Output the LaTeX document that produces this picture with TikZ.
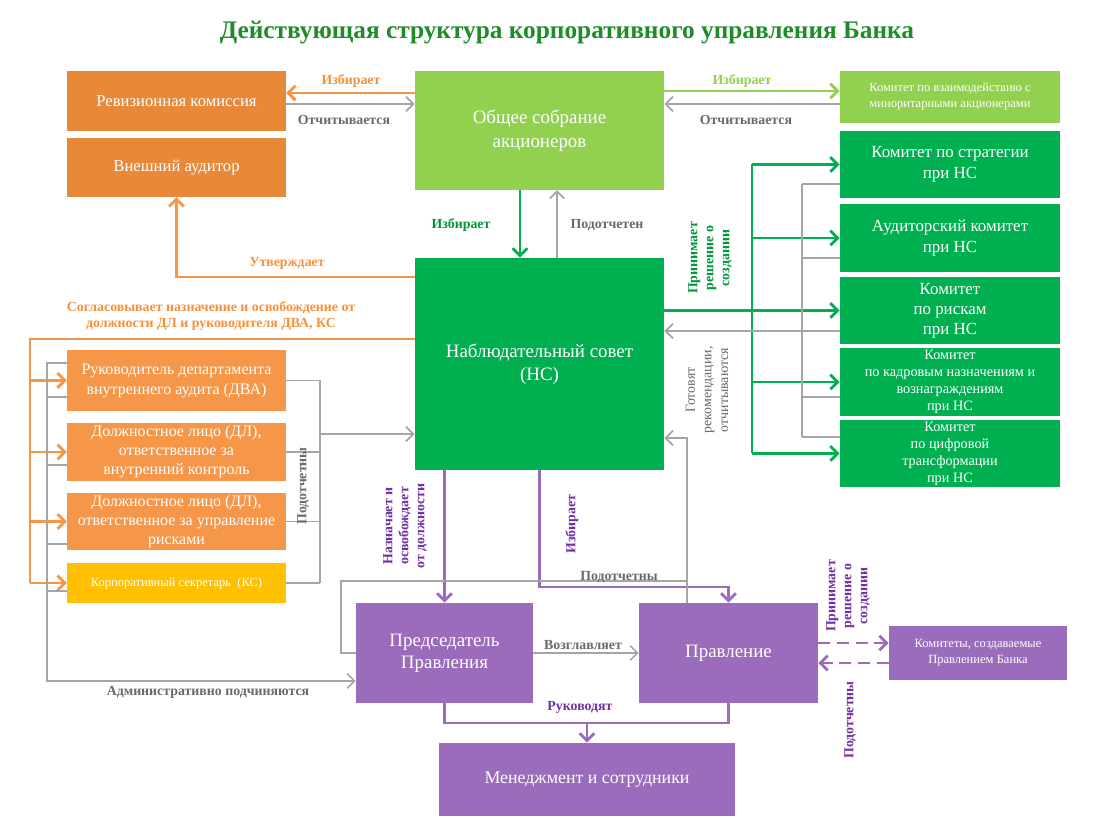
\documentclass[tikz,border=0pt]{standalone}
\usepackage{fontspec}
\setmainfont{Liberation Serif}
\usepackage{tikz}
\usetikzlibrary{arrows.meta}
\definecolor{titlegreen}{RGB}{30,140,40}
\definecolor{orbox}{RGB}{232,137,58}
\definecolor{orlight}{RGB}{245,150,72}
\definecolor{orlab}{RGB}{245,145,60}
\definecolor{ksyellow}{RGB}{255,192,0}
\definecolor{lgreen}{RGB}{146,208,80}
\definecolor{dgreen}{RGB}{0,176,80}
\definecolor{labgreen}{RGB}{0,150,60}
\definecolor{lineg}{RGB}{165,165,165}
\definecolor{labg}{RGB}{105,105,105}
\definecolor{purp}{RGB}{155,108,188}
\definecolor{purplab}{RGB}{112,48,160}

\begin{document}
\begin{tikzpicture}[
    x=0.75pt, y=-0.75pt,
    box/.style={rectangle, inner sep=1pt, text=white, align=center,
                font=\fontsize{12.5}{15}\selectfont},
    big/.style={font=\fontsize{14.2}{17}\selectfont},
    small/.style={font=\fontsize{9.4}{12}\selectfont},
    lab/.style={font=\fontsize{10.4}{12}\selectfont\bfseries, inner sep=1pt},
    tip/.style={-{Straight Barb[length=5.5pt,width=11pt]}},
    orline/.style={draw=orlight, line width=2.2pt},
    orarrow/.style={orline, tip},
    gyline/.style={draw=lineg, line width=1.3pt},
    gyarrow/.style={gyline, tip},
    gnline/.style={draw=dgreen, line width=2.2pt},
    gnarrow/.style={gnline, tip},
    lgarrow/.style={draw=lgreen, line width=2.2pt, tip},
    puline/.style={draw=purp, line width=2.2pt},
    puarrow/.style={puline, tip},
    pudash/.style={puarrow, dash pattern=on 9pt off 5pt}
]
\useasboundingbox (0,0) rectangle (1100,837);
\node[font=\fontsize{19}{22}\selectfont\bfseries, text=titlegreen] (title) at (567,33)
    {Действующая структура корпоративного управления Банка};

\node[box, fill=orbox, minimum width=164pt, minimum height=45pt] (rev) at (176.5,101) {Ревизионная комиссия};
\node[box, fill=orbox, minimum width=164pt, minimum height=44pt] (aud) at (176.5,167.5) {Внешний аудитор};
\node[box, big, fill=lgreen, minimum width=187pt, minimum height=89pt,
      font=\fontsize{14.2}{18}\selectfont] (osa) at (539.5,130.5) {Общее собрание\\акционеров};
\node[box, small, fill=lgreen, minimum width=165pt, minimum height=39pt] (kvz) at (950,97)
    {Комитет по взаимодействию с\\миноритарными акционерами};
\node[box, fill=dgreen, minimum width=165pt, minimum height=50pt,
      font=\fontsize{12.7}{15.5}\selectfont] (kstr) at (950,164.5) {Комитет по стратегии\\при НС};
\node[box, fill=dgreen, minimum width=165pt, minimum height=51pt,
      font=\fontsize{12.7}{15.5}\selectfont] (kaud) at (950,238) {Аудиторский комитет\\при НС};
\node[box, fill=dgreen, minimum width=165pt, minimum height=50pt,
      font=\fontsize{12.7}{15}\selectfont] (kris) at (950,310.5) {Комитет\\по рискам\\при НС};
\node[box, fill=dgreen, minimum width=165pt, minimum height=51pt,
      font=\fontsize{10.7}{12.8}\selectfont] (kkad) at (950,382)
    {Комитет\\по кадровым назначениям и\\вознаграждениям\\при НС};
\node[box, fill=dgreen, minimum width=165pt, minimum height=50pt,
      font=\fontsize{10.7}{12.8}\selectfont] (kcif) at (950,453.5)
    {Комитет\\по цифровой\\трансформации\\при НС};
\node[box, big, fill=dgreen, minimum width=187pt, minimum height=159pt] (ns) at (539.5,364)
    {Наблюдательный совет\\(НС)};

\node[box, fill=orlight, minimum width=164pt, minimum height=45.75pt,
      font=\fontsize{12}{15}\selectfont] (dva) at (176.5,380.5)
    {Руководитель департамента\\внутреннего аудита (ДВА)};
\node[box, fill=orlight, minimum width=164pt, minimum height=43.5pt,
      font=\fontsize{12}{14.2}\selectfont] (dlvk) at (176.5,452)
    {Должностное лицо (ДЛ),\\ответственное за\\внутренний контроль};
\node[box, fill=orlight, minimum width=164pt, minimum height=42.75pt,
      font=\fontsize{12}{14.2}\selectfont] (dlr) at (176.5,521.5)
    {Должностное лицо (ДЛ),\\ответственное за управление\\рисками};
\node[box, small, fill=ksyellow, minimum width=164pt, minimum height=30pt] (ks) at (176.5,583)
    {Корпоративный секретарь~~(КС)};

\node[box, big, fill=purp, minimum width=132.75pt, minimum height=75pt,
      font=\fontsize{14.2}{16.5}\selectfont] (pred) at (444.5,653) {Председатель\\Правления};
\node[box, big, fill=purp, minimum width=134.25pt, minimum height=75pt] (prav) at (728.5,653) {Правление};
\node[box, fill=purp, minimum width=222pt, minimum height=54.75pt,
      font=\fontsize{13.4}{16}\selectfont] (men) at (587,779.5) {Менеджмент и сотрудники};
\node[box, small, fill=purp, minimum width=133.5pt, minimum height=40.5pt] (kpr) at (978,653)
    {Комитеты, создаваемые\\Правлением Банка};

\draw[orarrow] (osa.west |- 0,93) -- (rev.east |- 0,93);
\draw[gyarrow] (rev.east |- 0,104) -- (osa.west |- 0,104);
\draw[lgarrow] (osa.east |- 0,91) -- (kvz.west |- 0,91);
\draw[gyarrow] (kvz.west |- 0,104) -- (osa.east |- 0,104);
\draw[gnarrow] (osa.south -| 520,0) -- (ns.north -| 520,0);
\draw[gyarrow] (ns.north -| 557,0) -- (osa.south -| 557,0);
\draw[orarrow] (ns.west |- 0,277) -| (aud.south);

\draw[orline] (ns.west |- 0,339) -| (ks.west -| 30,0);
\foreach \b in {dva,dlvk,dlr,ks}
    \draw[orarrow] (\b.west -| 30,0) -- (\b.west);
\foreach \b in {dva,dlvk,dlr,ks}
    \draw[gyline] (\b.east) -- (\b.east -| 320,0);
\draw[gyline] (dva.east -| 320,0) -- (ks.east -| 320,0);
\coordinate (podl) at (320,434);
\draw[gyarrow] (podl) -- (ns.west |- podl);

\draw[gyarrow] (dva.west |- 0,363) -| (47,681) -- (pred.west |- 0,681);
\foreach \b/\y in {dva/397,dlvk/465,dlr/544,ks/591}
    \draw[gyline] (\b.west |- 0,\y) -- (47,\y);

\draw[puarrow] (ns.south -| pred.north) -- (pred.north);
\draw[puarrow] (ns.south) |- (prav.north |- 0,587) -- (prav.north);
\draw[gyarrow] (prav.north -| 687,0) |- (ns.east |- 0,438);
\draw[gyline] (pred.west) -| (341,581) -- (687,581);

\draw[gnline] (kstr.west -| 752,0) -- (kcif.west -| 752,0);
\foreach \c in {kstr,kaud,kkad,kcif}
    \draw[gnarrow] (\c.west -| 752,0) -- (\c.west);
\draw[gnarrow] (ns.east |- kris.west) -- (kris.west);
\foreach \c/\y in {kstr/184,kaud/258,kris/331,kkad/397,kcif/437}
    \draw[gyline] (\c.west |- 0,\y) -- (802,\y);
\draw[gyline] (802,184) -- (802,437);
\draw[gyarrow] (kris.west |- 0,331) -- (ns.east |- 0,331);

\draw[gyarrow] (pred.east) -- (prav.west);
\draw[puline] (pred.south) |- (prav.south |- 0,723) -- (prav.south);
\draw[puarrow] (men.north |- 0,723) -- (men.north);
\draw[pudash] (prav.east |- 0,643) -- (kpr.west |- 0,643);
\draw[pudash] (kpr.west |- 0,663) -- (prav.east |- 0,663);

\node[lab, text=orlab] (l1) at (351,81) {Избирает};
\node[lab, text=labg] (l2) at (344,120) {Отчитывается};
\node[lab, text=lgreen] (l3) at (742,81) {Избирает};
\node[lab, text=labg] (l4) at (746,120) {Отчитывается};
\node[lab, text=labgreen] (l5) at (461,225) {Избирает};
\node[lab, text=labg] (l6) at (607,225) {Подотчетен};
\node[lab, text=orlab] (l7) at (287,263) {Утверждает};
\node[lab, text=orlab, align=center] (l8) at (211,316)
    {Согласовывает назначение и освобождение от\\должности ДЛ и руководителя ДВА, КС};
\node[lab, text=labg, rotate=90] (l9) at (303,486) {Подотчетны};
\node[lab, text=labg] (l10) at (208,692) {Административно подчиняются};
\node[lab, text=purplab, rotate=90, align=center] (l11) at (405,526)
    {Назначает и\\освобождает\\от должности};
\node[lab, text=purplab, rotate=90] (l12) at (572,524) {Избирает};
\node[lab, text=labg] (l13) at (619,577) {Подотчетны};
\node[lab, text=labg, rotate=90, align=center, font=\fontsize{10.4}{12.5}\selectfont] (l14) at (707,390)
    {Готовят\\рекомендации,\\отчитываются};
\node[lab, text=labgreen, rotate=90, align=center] (l15) at (710,258)
    {Принимает\\решение о\\создании};
\node[lab, text=labg] (l16) at (583,645) {Возглавляет};
\node[lab, text=purplab] (l17) at (580,707) {Руководят};
\node[lab, text=purplab, rotate=90, align=center] (l18) at (848,596)
    {Принимает\\решение о\\создании};
\node[lab, text=purplab, rotate=90] (l19) at (850,720) {Подотчетны};
\end{tikzpicture}
\end{document}
